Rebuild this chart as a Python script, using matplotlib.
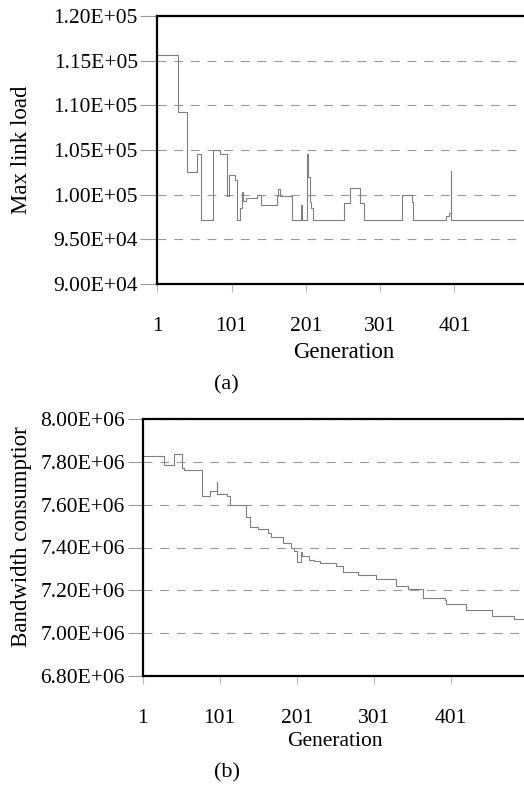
import matplotlib
matplotlib.use('Agg')
import matplotlib.pyplot as plt
from matplotlib.ticker import FormatStrFormatter

plt.rcParams['font.family'] = 'Liberation Serif'

# (a) max link load: generation where a new level starts, and the level
load_gen = [1, 29, 41, 54, 60, 76, 86, 95, 97, 106, 108, 113, 115, 116, 121, 135, 140,
            162, 163, 166, 183, 195, 196, 202, 204, 206, 208, 211, 253, 260, 274, 280,
            330, 344, 346, 390, 394, 396, 397, 495]
load_val = [115600, 109200, 102500, 104500, 97200, 105000, 104500, 99900, 102200, 101600,
            97200, 98500, 100300, 99300, 99600, 100000, 98800, 99900, 100600, 99900,
            97200, 98800, 97200, 104500, 102000, 99200, 98500, 97200, 99100, 100700,
            99100, 97200, 99950, 99200, 97200, 97600, 98000, 102700, 97200, 97200]

# (b) bandwidth consumption
bw_gen = [1, 29, 42, 52, 54, 78, 88, 97, 98, 110, 115, 135, 140, 151, 164, 168, 183, 194,
          198, 202, 206, 208, 217, 223, 231, 252, 261, 281, 304, 330, 345, 365, 393, 395,
          421, 455, 483, 496]
bw_val = [7826000, 7784000, 7836000, 7769000, 7764000, 7642000, 7662000, 7705000, 7649000,
          7640000, 7600000, 7544000, 7494000, 7485000, 7466000, 7447000, 7423000, 7396000,
          7384000, 7334000, 7377000, 7360000, 7343000, 7335000, 7326000, 7314000, 7284000,
          7272000, 7252000, 7222000, 7205000, 7166000, 7155000, 7137000, 7109000, 7078000,
          7065000, 7065000]

xticks = [1, 101, 201, 301, 401]
load_ticks = [90000, 95000, 100000, 105000, 110000, 115000, 120000]
bw_ticks = [6.8e6, 7.0e6, 7.2e6, 7.4e6, 7.6e6, 7.8e6, 8.0e6]

W, H = 524, 785
fig = plt.figure(figsize=(W / 100, H / 100), dpi=100)


def box(l, t, r, b):
    return [l / W, 1 - b / H, (r - l) / W, (b - t) / H]


def style(ax, gen, val, yticks, xmax, ylen):
    ax.plot(gen, val, drawstyle='steps-post', color='#808080', lw=0.8)
    ax.set_xlim(1, xmax)
    ax.set_ylim(yticks[0], yticks[-1])
    ax.set_xticks(xticks)
    ax.set_yticks(yticks)
    ax.yaxis.set_major_formatter(FormatStrFormatter('%.2E'))
    ax.grid(axis='y', color='#999999', ls=(0, (8, 7)), lw=0.8)
    for s in ['left', 'bottom', 'top']:
        ax.spines[s].set_linewidth(1.6)
        ax.spines[s].set_color('black')
    ax.spines['right'].set_visible(False)
    ax.tick_params(axis='y', length=ylen, width=0.8, color='#999999', pad=2, labelsize=15.5)
    ax.tick_params(axis='x', length=6, width=0.8, color='#bbbbbb', pad=18, labelsize=15.5)


ax1 = fig.add_axes(box(157.3, 16, 524, 284))
style(ax1, load_gen, load_val, load_ticks, 494.9, 12)

ax2 = fig.add_axes(box(142.7, 419, 524, 676))
style(ax2, bw_gen, bw_val, bw_ticks, 496.2, 11)


def label(x, y, s, **kw):
    fig.text(x / W, 1 - y / H, s, ha='center', va='center', **kw)


label(21.7, 150, 'Max link load', fontsize=16.5, rotation=90)
label(344, 352, 'Generation', fontsize=16.5)
label(226.7, 385, '(a)', fontsize=16)
label(21.7, 537, 'Bandwidth consumptior', fontsize=16.5, rotation=90)
label(335, 742, 'Generation', fontsize=15.5)
label(226.7, 773, '(b)', fontsize=16)

fig.savefig('out.png', dpi=100)
